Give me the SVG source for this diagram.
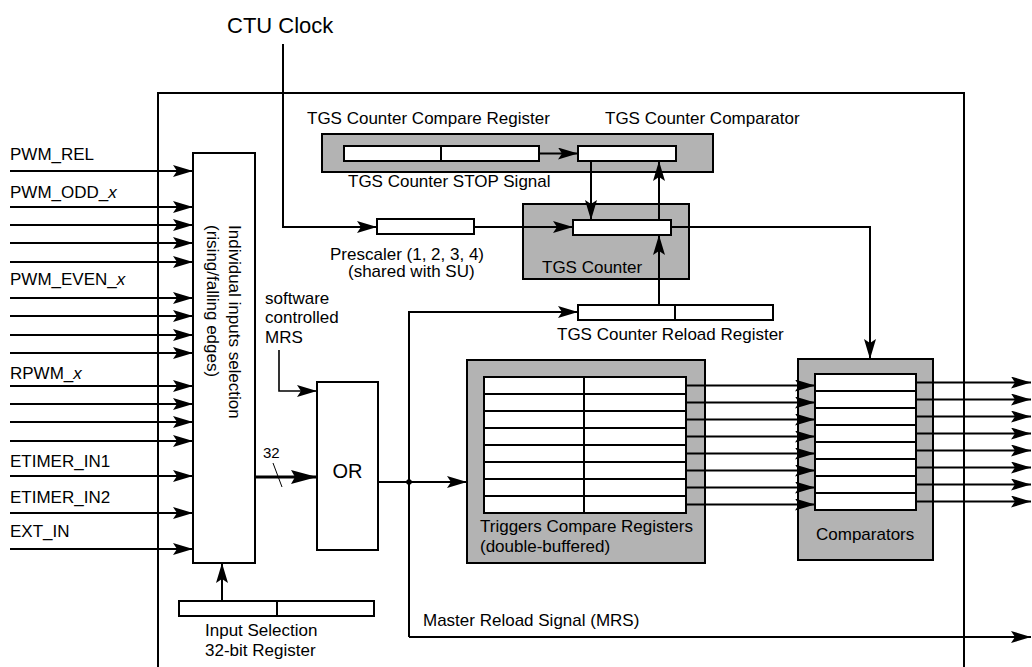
<svg xmlns="http://www.w3.org/2000/svg" width="1032" height="667" viewBox="0 0 1032 667">
<style>
text{font-family:"Liberation Sans",Arial,sans-serif;font-size:16.5px;fill:#000}
.lbl{font-size:17px}
.box{fill:#fff;stroke:#000;stroke-width:2}
.gray{fill:#b3b3b3;stroke:#000;stroke-width:2}
.ln{fill:none;stroke:#000;stroke-width:2}
.arr{fill:none;stroke:#000;stroke-width:2;marker-end:url(#ah)}
</style>
<defs>
<marker id="ah" viewBox="0 0 20 12" refX="20" refY="6" markerWidth="20" markerHeight="12" markerUnits="userSpaceOnUse" orient="auto">
<path d="M0,0 L20,6 L0,12 L4,6 z" fill="#000"/>
</marker>
<marker id="ahb" viewBox="0 0 26 14" refX="26" refY="7" markerWidth="26" markerHeight="14" markerUnits="userSpaceOnUse" orient="auto">
<path d="M0,0 L26,7 L0,14 L4,7 z" fill="#000"/>
</marker>
</defs>
<rect width="1032" height="667" fill="#fff"/>

<g id="frame">
<path class="ln" d="M158,667 V93 H964 V667"/>
</g>

<g id="ctu-clock">
<text x="227" y="33" style="font-size:22px">CTU Clock</text>
</g>

<g id="input-labels">
<text class="lbl" x="10" y="160">PWM_REL</text>
<text class="lbl" x="10" y="198">PWM_ODD_<tspan font-style="italic">x</tspan></text>
<text class="lbl" x="10" y="285">PWM_EVEN_<tspan font-style="italic">x</tspan></text>
<text class="lbl" x="10" y="379">RPWM_<tspan font-style="italic">x</tspan></text>
<text class="lbl" x="10" y="467">ETIMER_IN1</text>
<text class="lbl" x="10" y="503">ETIMER_IN2</text>
<text class="lbl" x="10" y="537">EXT_IN</text>
</g>

<g id="input-selection-block">
<rect class="box" x="193" y="153" width="62" height="410"/>
<text transform="translate(228.5,225) rotate(90)" class="lbl">Individual inputs selection</text>
<text transform="translate(207,225) rotate(90)" class="lbl">(rising/falling edges)</text>
</g>

<g id="input-selection-register">
<rect class="box" x="179" y="601" width="195" height="15"/>
<line class="ln" x1="277" y1="601" x2="277" y2="616"/>
<text class="lbl" x="205" y="636">Input Selection</text>
<text class="lbl" x="205" y="656">32-bit Register</text>
</g>

<g id="or-gate">
<rect class="box" x="317" y="382" width="61" height="168"/>
<text x="347.5" y="478" text-anchor="middle" style="font-size:20px">OR</text>
</g>

<g id="software-mrs">
<text class="lbl" x="265" y="304">software</text>
<text class="lbl" x="265" y="323">controlled</text>
<text class="lbl" x="265" y="343">MRS</text>
</g>

<g id="prescaler">
<rect class="box" x="377" y="219" width="97" height="15"/>
<text class="lbl" x="330" y="260">Prescaler (1, 2, 3, 4)</text>
<text class="lbl" x="348" y="277">(shared with SU)</text>
</g>

<g id="tgs-compare">
<text class="lbl" x="307" y="124">TGS Counter Compare Register</text>
<text class="lbl" x="605" y="124">TGS Counter Comparator</text>
<rect class="gray" x="322" y="134" width="391" height="38"/>
<rect class="box" x="344" y="146" width="195" height="15"/>
<line class="ln" x1="441" y1="146" x2="441" y2="161"/>
<rect class="box" x="578" y="146" width="98" height="15"/>
<text class="lbl" x="348" y="187">TGS Counter STOP Signal</text>
</g>

<g id="tgs-counter">
<rect class="gray" x="523" y="204" width="166" height="75"/>
<rect class="box" x="573" y="220" width="98" height="15"/>
<text class="lbl" x="542" y="273">TGS Counter</text>
</g>

<g id="tgs-reload">
<rect class="box" x="578" y="305" width="195" height="15"/>
<line class="ln" x1="675" y1="305" x2="675" y2="320"/>
<text class="lbl" x="557" y="340">TGS Counter Reload Register</text>
</g>

<g id="triggers-compare-registers">
<rect class="gray" x="467" y="360" width="238" height="203"/>
<rect class="box" x="484" y="377" width="202" height="136"/>
<path class="ln" d="M584,377 V513 M484,394 H686 M484,411 H686 M484,428 H686 M484,445 H686 M484,462 H686 M484,479 H686 M484,496 H686"/>
<text class="lbl" x="480" y="532">Triggers Compare Registers</text>
<text class="lbl" x="480" y="552">(double-buffered)</text>
</g>

<g id="comparators">
<rect class="gray" x="798" y="359" width="135" height="201"/>
<rect class="box" x="815" y="374" width="101" height="136"/>
<path class="ln" d="M815,391 H916 M815,408 H916 M815,425 H916 M815,442 H916 M815,459 H916 M815,476 H916 M815,493 H916"/>
<text class="lbl" x="816" y="540">Comparators</text>
</g>

<g id="mrs-label">
<text class="lbl" x="423" y="626">Master Reload Signal (MRS)</text>
<text x="263" y="458" style="font-size:15px">32</text>
</g>

<g id="connectors">
<path class="arr" d="M10,171 H193"/>
<path class="arr" d="M10,207 H193"/>
<path class="arr" d="M10,225 H193"/>
<path class="arr" d="M10,243 H193"/>
<path class="arr" d="M10,262 H193"/>
<path class="arr" d="M10,298 H193"/>
<path class="arr" d="M10,316 H193"/>
<path class="arr" d="M10,335 H193"/>
<path class="arr" d="M10,353 H193"/>
<path class="arr" d="M10,386 H193"/>
<path class="arr" d="M10,404 H193"/>
<path class="arr" d="M10,422 H193"/>
<path class="arr" d="M10,441 H193"/>
<path class="arr" d="M10,476 H193"/>
<path class="arr" d="M10,513 H193"/>
<path class="arr" d="M10,549 H193"/>
<path class="arr" d="M222,601 V563"/>
<path d="M255,477 H317" fill="none" stroke="#000" stroke-width="3.2" marker-end="url(#ahb)"/>
<line x1="273" y1="463" x2="282" y2="487" stroke="#000" stroke-width="1"/>
<path d="M279,350 V391 H317" fill="none" stroke="#000" stroke-width="1.6" marker-end="url(#ah)"/>
<path class="arr" d="M283,44 V227 H377"/>
<path class="arr" d="M474,227 H573"/>
<path class="arr" d="M539,153.5 H578"/>
<path class="arr" d="M591,161 V220"/>
<path class="arr" d="M659,220 V161"/>
<path class="arr" d="M659,305 V235"/>
<path class="arr" d="M671,227 H870 V359"/>
<path class="arr" d="M378,482 H467"/>
<circle cx="409" cy="482" r="2.8" fill="#000"/>
<path class="arr" d="M409,637 V312 H578"/>
<path class="arr" d="M409,637 H1031"/>
<path class="arr" d="M686,385.5 H815"/>
<path class="arr" d="M686,402.5 H815"/>
<path class="arr" d="M686,419.5 H815"/>
<path class="arr" d="M686,436.5 H815"/>
<path class="arr" d="M686,453.5 H815"/>
<path class="arr" d="M686,470.5 H815"/>
<path class="arr" d="M686,487.5 H815"/>
<path class="arr" d="M686,504.5 H815"/>
<path class="arr" d="M916,382.5 H1031"/>
<path class="arr" d="M916,399.5 H1031"/>
<path class="arr" d="M916,416.5 H1031"/>
<path class="arr" d="M916,433.5 H1031"/>
<path class="arr" d="M916,450.5 H1031"/>
<path class="arr" d="M916,467.5 H1031"/>
<path class="arr" d="M916,484.5 H1031"/>
<path class="arr" d="M916,501.5 H1031"/>
</g>
</svg>
